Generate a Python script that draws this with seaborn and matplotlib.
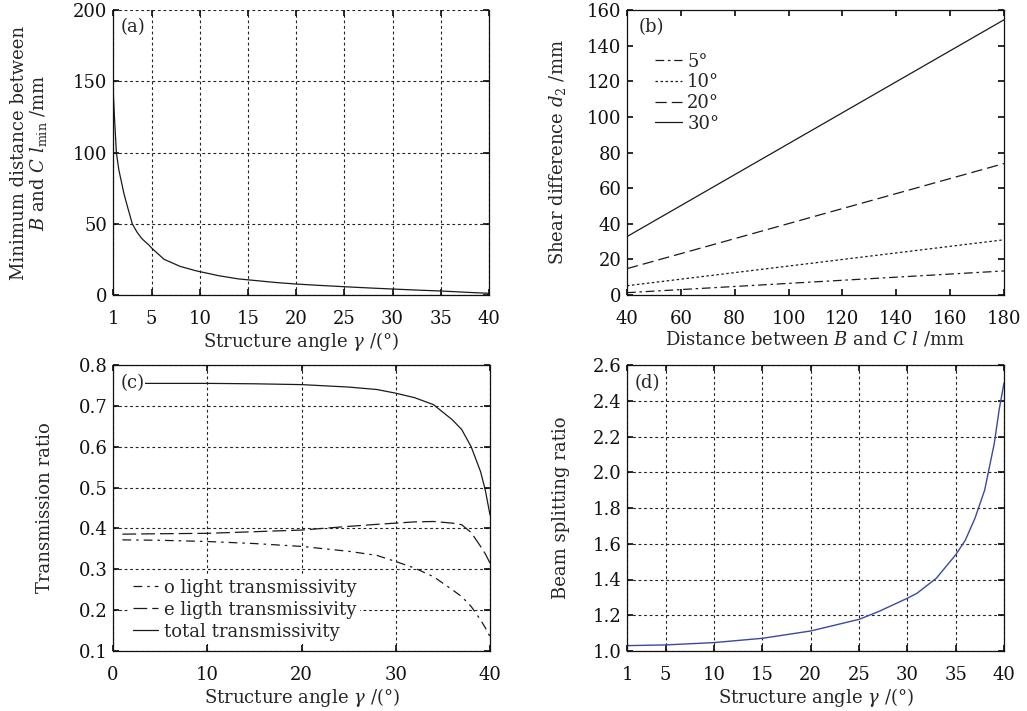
import numpy as np
import pandas as pd
import matplotlib
matplotlib.use("Agg")
import matplotlib.pyplot as plt
import seaborn as sns

# ---------------- data ----------------
# (a) minimum distance between B and C vs structure angle
a_gamma = [1, 1.15, 1.35, 1.6, 2.14, 2.5, 3, 3.5, 4, 4.73, 5, 6.3, 8, 9.6, 12, 14, 16,
           18, 20, 22, 25, 28, 30, 32, 35, 38, 40]
a_lmin = [146, 125, 100, 88, 71, 62, 50, 44, 39.5, 35, 33, 25, 20, 17, 13.5, 11.3, 10,
          8.7, 7.7, 6.9, 5.8, 4.8, 4.2, 3.6, 2.8, 1.8, 1.2]

# (b) shear difference vs distance l for several structure angles
b_l = [40, 180]
b_labels = ["5°", "10°", "20°", "30°"]
b_d5 = [1.3, 13.5]
b_d10 = [5.2, 31.0]
b_d20 = [14.8, 73.8]
b_d30 = [32.8, 154.5]

# (c) transmission ratio vs structure angle
c_gamma = [1, 5, 10, 15, 20, 25, 28, 30, 32, 34, 36, 37, 38, 39, 39.5, 40]
c_o = [0.372, 0.371, 0.368, 0.363, 0.356, 0.344, 0.334, 0.319, 0.303, 0.282, 0.250,
       0.233, 0.209, 0.176, 0.157, 0.135]
c_e = [0.386, 0.387, 0.388, 0.392, 0.396, 0.405, 0.410, 0.413, 0.416, 0.417, 0.413,
       0.409, 0.390, 0.356, 0.338, 0.315]
c_total = [0.755, 0.755, 0.755, 0.754, 0.752, 0.746, 0.740, 0.731, 0.720, 0.703,
           0.666, 0.642, 0.600, 0.539, 0.494, 0.433]
c_labels = ["o light transmissivity", "e ligth transmissivity", "total transmissivity"]

# (d) beam splitting ratio vs structure angle
d_gamma = [1, 5, 10, 15, 20, 25, 27, 30, 31, 33, 35, 36, 37, 38, 39, 39.5, 40]
d_ratio = [1.03, 1.034, 1.047, 1.071, 1.112, 1.177, 1.22, 1.295, 1.323, 1.407, 1.538,
           1.62, 1.743, 1.90, 2.163, 2.35, 2.50]

# ---------------- style ----------------
sns.set_theme(style="ticks")
plt.rcParams["font.family"] = ["DejaVu Serif"]
plt.rcParams["mathtext.fontset"] = "dejavuserif"
FS = 13
plt.rcParams["font.size"] = FS
plt.rcParams["axes.linewidth"] = 0.9
plt.rcParams["xtick.direction"] = "in"
plt.rcParams["ytick.direction"] = "in"
plt.rcParams["xtick.top"] = True
plt.rcParams["ytick.right"] = True
plt.rcParams["xtick.major.size"] = 4
plt.rcParams["ytick.major.size"] = 4
plt.rcParams["xtick.labelsize"] = FS
plt.rcParams["ytick.labelsize"] = FS
plt.rcParams["axes.labelsize"] = FS

fig = plt.figure(figsize=(10.27, 7.11), dpi=100)
fig.patch.set_facecolor("white")

W, H = 1027, 711
def ax_at(l, t, r, b):
    return fig.add_axes([l / W, 1 - b / H, (r - l) / W, (b - t) / H])

ax_a = ax_at(113, 10, 489, 295)
ax_b = ax_at(627, 10, 1004, 295)
ax_c = ax_at(113, 365, 490, 651)
ax_d = ax_at(627, 365, 1004, 651)

grid_kw = dict(color="#222222", linestyle=(0, (2.5, 2.5)), linewidth=0.8)
line_col = "#1a1a1a"

# (a)
df_a = pd.DataFrame({"g": a_gamma, "l": a_lmin})
sns.lineplot(data=df_a, x="g", y="l", ax=ax_a, color=line_col, linewidth=0.9)
ax_a.set_xlim(1, 40)
ax_a.set_ylim(0, 200)
ax_a.set_xticks([1, 5, 10, 15, 20, 25, 30, 35, 40])
ax_a.set_yticks([0, 50, 100, 150, 200])
ax_a.grid(True, **grid_kw)
ax_a.spines["top"].set_visible(False)
ax_a.set_xlabel(r"Structure angle $\gamma$ /(°)", labelpad=1)
ax_a.set_ylabel("Minimum distance between\n" + r"$B$ and $C$ $l_{\rm min}$ /mm",
                labelpad=17, linespacing=1.0)
ax_a.text(0.02, 0.97, "(a)", transform=ax_a.transAxes, va="top", ha="left", fontsize=FS)

# (b)
rows = []
for lab, vals in zip(b_labels, [b_d5, b_d10, b_d20, b_d30]):
    for x, y in zip(b_l, vals):
        rows.append({"l": x, "d": y, "angle": lab})
df_b = pd.DataFrame(rows)
dashes_b = {"5°": (7, 3, 2, 3), "10°": (2, 2), "20°": (9, 4), "30°": ""}
sns.lineplot(data=df_b, x="l", y="d", style="angle", dashes=dashes_b, ax=ax_b,
             color=line_col, linewidth=0.9, style_order=b_labels)
ax_b.set_xlim(40, 180)
ax_b.set_ylim(0, 160)
ax_b.set_xticks(range(40, 181, 20))
ax_b.set_yticks(range(0, 161, 20))
ax_b.set_xlabel(r"Distance between $B$ and $C$ $l$ /mm", labelpad=1)
ax_b.set_ylabel(r"Shear difference $d_2$ /mm", labelpad=14)
ax_b.legend(title=None, loc="upper left", bbox_to_anchor=(0.04, 0.895), frameon=False,
            handlelength=1.5, handletextpad=0.3, labelspacing=0.15, borderpad=0.2,
            fontsize=FS)
ax_b.text(0.03, 0.97, "(b)", transform=ax_b.transAxes, va="top", ha="left", fontsize=FS)

# (c)
rows = []
for lab, vals in zip(c_labels, [c_o, c_e, c_total]):
    for x, y in zip(c_gamma, vals):
        rows.append({"g": x, "t": y, "kind": lab})
df_c = pd.DataFrame(rows)
dashes_c = {c_labels[0]: (7, 4, 2, 4), c_labels[1]: (11, 4), c_labels[2]: ""}
sns.lineplot(data=df_c, x="g", y="t", style="kind", dashes=dashes_c, ax=ax_c,
             color=line_col, linewidth=0.9, style_order=c_labels)
ax_c.set_xlim(0, 40)
ax_c.set_ylim(0.1, 0.8)
ax_c.set_xticks([0, 10, 20, 30, 40])
ax_c.set_yticks([0.1, 0.2, 0.3, 0.4, 0.5, 0.6, 0.7, 0.8])
ax_c.grid(True, **grid_kw)
ax_c.set_xlabel(r"Structure angle $\gamma$ /(°)", labelpad=1)
ax_c.set_ylabel("Transmission ratio", labelpad=18)
leg = ax_c.legend(title=None, loc="lower left", bbox_to_anchor=(0.02, -0.008), frameon=True,
                  handlelength=1.35, handletextpad=0.35, labelspacing=0.22, borderpad=0.2,
                  fontsize=FS, fancybox=False)
leg.get_frame().set_edgecolor("none")
leg.get_frame().set_facecolor("white")
leg.get_frame().set_alpha(1.0)
ax_c.text(0.02, 0.97, "(c)", transform=ax_c.transAxes, va="top", ha="left", fontsize=FS,
          bbox=dict(facecolor="white", edgecolor="none", pad=0.5))

# (d)
df_d = pd.DataFrame({"g": d_gamma, "r": d_ratio})
sns.lineplot(data=df_d, x="g", y="r", ax=ax_d, color="#3b4a9c", linewidth=1.0)
ax_d.set_xlim(1, 40)
ax_d.set_ylim(1.0, 2.6)
ax_d.set_xticks([1, 5, 10, 15, 20, 25, 30, 35, 40])
ax_d.set_yticks([1.0, 1.2, 1.4, 1.6, 1.8, 2.0, 2.2, 2.4, 2.6])
ax_d.set_yticklabels([f"{v:.1f}" for v in [1.0, 1.2, 1.4, 1.6, 1.8, 2.0, 2.2, 2.4, 2.6]])
ax_d.grid(True, **grid_kw)
ax_d.set_xlabel(r"Structure angle $\gamma$ /(°)", labelpad=1)
ax_d.set_ylabel("Beam splitting ratio", labelpad=16)
ax_d.text(0.02, 0.97, "(d)", transform=ax_d.transAxes, va="top", ha="left", fontsize=FS)

for ax in (ax_a, ax_b, ax_c, ax_d):
    ax.set_axisbelow(True)
    ax.tick_params(colors="#111111")
    ax.tick_params(axis="x", pad=11)
    ax.tick_params(axis="y", pad=4)
    for s in ax.spines.values():
        s.set_color("#111111")

fig.savefig("out.png", dpi=100, facecolor="white")
